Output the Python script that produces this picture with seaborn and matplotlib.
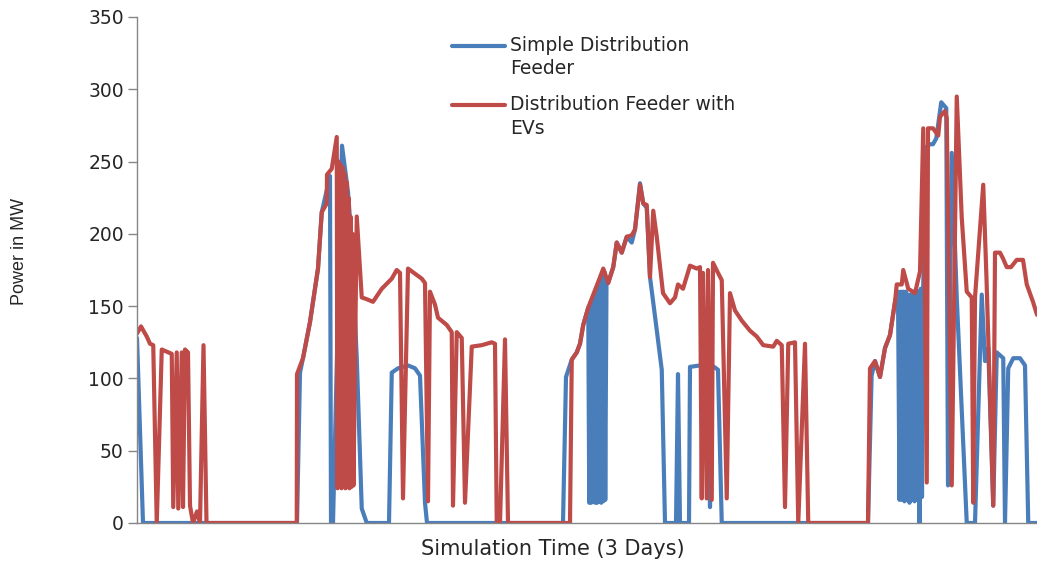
import numpy as np
import pandas as pd
import matplotlib
matplotlib.use("Agg")
import matplotlib.pyplot as plt
import seaborn as sns

# Feeder load over three simulated days: time in hours, power in MW
simple_hours = [0.00, 0.48, 12.80, 13.04, 13.28, 13.84, 14.48, 14.78, 15.44, 15.52, 15.68,
                16.40, 16.88, 17.18, 17.58, 17.98, 18.38, 20.16, 20.38, 20.88, 21.68, 22.24,
                22.64, 23.04, 23.20, 34.08, 34.32, 34.78, 35.18, 35.44, 35.70, 36.10,
                36.18, 36.26, 36.34, 36.42, 36.50, 36.58, 36.66, 36.74, 36.82, 36.90,
                36.98, 37.06, 37.14, 37.22, 37.30, 37.38, 37.46, 37.56, 37.68,
                38.10, 38.38, 38.78, 39.18, 39.58, 39.84, 40.24, 40.50, 40.78, 41.04, 41.44,
                41.98, 42.24, 43.12, 43.28, 43.44, 44.16, 44.24, 45.04, 45.68, 45.84, 46.00,
                46.48, 46.78, 58.48, 58.77, 59.04, 59.44, 59.84, 60.24, 60.64, 60.88,
                61.00, 61.10, 61.20, 61.30, 61.40, 61.50, 61.60, 61.70, 61.80, 61.90,
                62.00, 62.10, 62.20, 62.30, 62.40, 62.50, 62.60, 62.70, 62.80, 62.90,
                63.14, 63.44, 63.68, 63.94, 64.34, 64.74, 64.88, 65.18, 65.58, 66.38, 67.04,
                67.58, 67.84, 68.10, 68.50, 68.78, 69.30, 69.44, 69.70, 70.10, 70.64, 71.04,
                71.30, 72.00]
simple_mw = [128, 0, 0, 104, 114, 139, 176, 215, 240, 0, 0,
             261, 229, 194, 114, 10, 0, 0, 104, 107, 109, 107,
             102, 14, 0, 0, 101, 113, 118, 124, 137, 149,
             14, 152, 14, 155, 15, 158, 14, 162, 14, 165,
             15, 168, 14, 172, 15, 174, 16, 168, 166,
             177, 194, 187, 198, 194, 203, 235, 221, 218, 170, 143,
             106, 0, 0, 103, 0, 0, 108, 109, 109, 11, 109,
             106, 0, 0, 102, 112, 101, 121, 130, 153, 160,
             16, 160, 16, 160, 15, 160, 16, 158, 14, 158,
             16, 160, 15, 160, 16, 160, 0, 162, 18, 165,
             260, 262, 262, 266, 291, 287, 26, 256, 156, 0, 0,
             158, 112, 121, 12, 118, 114, 0, 107, 114, 114, 109,
             0, 0]

ev_hours = [0.00, 0.32, 0.78, 1.04, 1.30, 1.58, 1.98, 2.50, 2.78, 2.90, 3.18, 3.30, 3.58,
            3.68, 3.84, 4.08, 4.24, 4.48, 4.80, 5.04, 5.32, 5.56, 12.78, 12.80, 13.28,
            13.84, 14.48, 14.78, 15.18, 15.20, 15.58, 15.98,
            16.04, 16.12, 16.20, 16.28, 16.36, 16.44, 16.52, 16.60, 16.68, 16.76,
            16.84, 16.92, 17.00, 17.08, 17.16, 17.24, 17.32,
            17.58, 17.98, 18.32, 18.88,
            19.58, 20.38, 20.78, 21.04, 21.28, 21.68, 22.78, 23.04, 23.28, 23.44, 23.84,
            24.08, 24.78, 25.18, 25.28, 25.58, 25.98, 26.24, 26.78, 27.58, 28.38, 28.64,
            28.78, 29.04, 29.44, 29.68, 34.64, 34.78, 35.18, 35.44, 35.70, 36.10, 36.64,
            37.04, 37.30, 37.70, 38.10, 38.38, 38.78, 39.18, 39.58, 39.84, 40.24, 40.50,
            40.78, 41.04, 41.30, 41.58, 42.08, 42.64, 43.04, 43.28, 43.68, 44.24, 44.78,
            45.04, 45.18, 45.28, 45.58, 45.68, 45.98, 46.08, 46.48, 46.78, 47.18, 47.44,
            47.84, 48.38, 49.04, 49.58, 50.10, 50.90, 51.18, 51.58, 51.84, 52.10, 52.64,
            52.90, 53.44, 53.70, 58.48, 58.64, 59.04, 59.44, 59.84, 60.24, 60.64, 60.78,
            61.18, 61.30, 61.70, 62.24, 62.64, 62.90, 63.18, 63.28, 63.68, 64.10, 64.24,
            64.64, 64.78, 65.18, 65.58, 65.98, 66.38, 66.78, 66.90, 67.04, 67.70, 67.96,
            68.50, 68.64, 69.04, 69.28, 69.58, 69.92, 70.38, 70.88, 71.18, 71.68, 72.00]
ev_mw = [131, 136, 129, 124, 123, 0, 120, 118, 117, 11, 118, 10, 118,
         11, 120, 118, 12, 0, 8, 0, 123, 0, 0, 103, 114,
         139, 176, 215, 221, 241, 245, 267,
         24, 250, 26, 248, 24, 246, 25, 242, 24, 236,
         26, 225, 24, 212, 25, 200, 26,
         212, 156, 155, 153,
         162, 169, 175, 173, 17, 176, 169, 166, 15, 160, 151,
         142, 137, 132, 12, 132, 128, 14, 122, 123, 125, 124,
         0, 0, 127, 0, 0, 113, 118, 124, 137, 149, 161,
         170, 176, 166, 177, 194, 187, 198, 199, 203, 234, 221,
         220, 170, 216, 198, 159, 152, 156, 165, 162, 178, 176,
         177, 17, 173, 17, 175, 16, 180, 173, 168, 17, 159,
         147, 140, 133, 129, 123, 122, 126, 123, 11, 124, 125,
         0, 124, 0, 0, 107, 112, 101, 121, 130, 153, 165,
         165, 175, 162, 159, 174, 273, 28, 273, 273, 268, 281,
         285, 280, 26, 295, 211, 160, 156, 14, 156, 234, 169,
         12, 187, 187, 183, 177, 177, 182, 182, 165, 153, 144]

series_names = ["Simple Distribution\nFeeder", "Distribution Feeder with\nEVs"]
series_colors = ["#4A7EBB", "#BE4B48"]
y_ticks = [0, 50, 100, 150, 200, 250, 300, 350]
x_label = "Simulation Time (3 Days)"
y_label = "Power in MW"

frame = pd.concat([
    pd.DataFrame({"hours": simple_hours, "mw": simple_mw, "series": series_names[0]}),
    pd.DataFrame({"hours": ev_hours, "mw": ev_mw, "series": series_names[1]}),
], ignore_index=True)

sns.set_theme(style="white")
plt.rcParams["font.family"] = ["DejaVu Sans"]

fig = plt.figure(figsize=(10.37, 5.62), dpi=100)
ax = fig.add_axes([137 / 1037, 39 / 562, 900 / 1037, 506 / 562])

sns.lineplot(data=frame, x="hours", y="mw", hue="series", hue_order=series_names,
             palette=series_colors, estimator=None, sort=False, linewidth=3.0,
             legend=False, ax=ax)

ax.set_xlim(0, 72)
ax.set_ylim(0, 350)
ax.set_xticks([])
ax.set_yticks(y_ticks)
ax.set_yticklabels([str(v) for v in y_ticks])

for side in ("top", "right"):
    ax.spines[side].set_visible(False)
for side in ("left", "bottom"):
    ax.spines[side].set_color("#868686")
    ax.spines[side].set_linewidth(1.0)

ax.tick_params(axis="y", which="major", direction="out", length=6.5, width=1.0,
               color="#868686", labelsize=13.5, labelcolor="#262626", pad=3, left=True)

ax.set_xlabel(x_label, fontsize=15, color="#262626")
ax.xaxis.set_label_coords(416 / 900, -0.032)
ax.set_ylabel(y_label, fontsize=13, color="#262626",
              family=["Liberation Sans Narrow", "Liberation Sans", "DejaVu Sans"])
ax.yaxis.set_label_coords(-0.121, 0.536)

handles = ax.get_lines()[:2]
leg = ax.legend(handles, series_names, loc="upper left",
                bbox_to_anchor=(452 / 1037, 1 - 36 / 562), bbox_transform=fig.transFigure,
                frameon=False, fontsize=13.5, handlelength=2.85, handletextpad=0.27,
                labelspacing=0.9, borderpad=0, borderaxespad=0)
for txt in leg.get_texts():
    txt.set_color("#262626")
    txt.set_linespacing(1.3)
# keep each key level with the first line of its label
for key in leg.legend_handles:
    key.set_linewidth(3.0)
    key.set_ydata(np.asarray(key.get_ydata()) + 8.8)

fig.savefig("out.png", dpi=100)
